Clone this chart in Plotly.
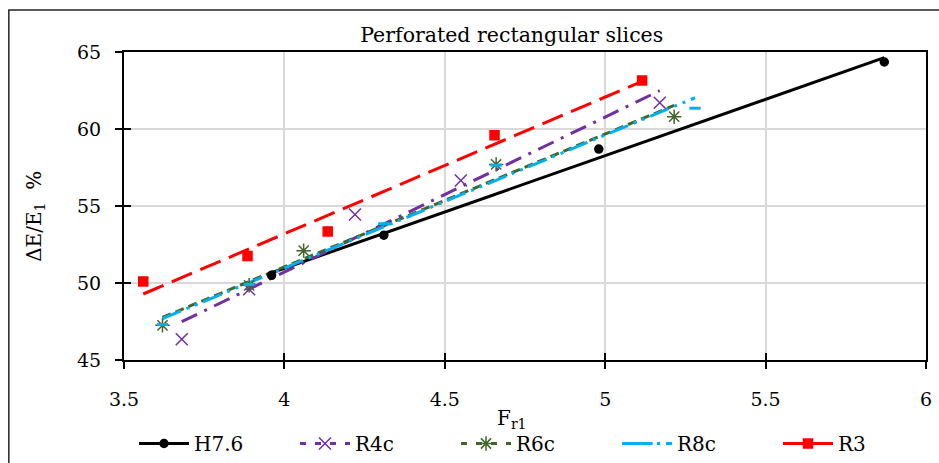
import numpy as np
import plotly.graph_objects as go

# Measured points (F_r1, ΔE/E1 %)
h76_x = [3.96, 4.31, 4.98, 5.87]
h76_y = [50.5, 53.1, 58.7, 64.35]

r4c_x = [3.68, 3.89, 4.22, 4.55, 5.17]
r4c_y = [46.35, 49.6, 54.45, 56.65, 61.7]

r6c_x = [3.62, 3.89, 4.06, 4.66, 5.215]
r6c_y = [47.25, 49.85, 52.1, 57.7, 60.8]

r8c_x = [3.62, 3.89, 4.31, 4.66, 5.28]
r8c_y = [47.3, 49.9, 53.85, 57.65, 61.35]

r3_x = [3.56, 3.885, 4.135, 4.655, 5.115]
r3_y = [50.1, 51.75, 53.35, 59.6, 63.15]

x_ticks = [3.5, 4, 4.5, 5, 5.5, 6]
y_ticks = [45, 50, 55, 60, 65]

FONT = "DejaVu Serif"

series = [
    # name, x, y, color, trend dash, marker symbol, marker size, legend dash
    ("H7.6", h76_x, h76_y, "#000000", "solid", "circle", 8, "solid"),
    ("R4c", r4c_x, r4c_y, "#7030A0", "17px,8px,3px,8px", "x-thin-open", 12, "6px,9px"),
    ("R6c", r6c_x, r6c_y, "#41652A", "9px,5px", "asterisk-open", 12, "6px,9px"),
    ("R8c", r8c_x, r8c_y, "#00B0F0", "20px,6px,3px,6px,3px,6px", "line-ew-open", 8, "20px,6px,3px,6px,3px,6px"),
    ("R3", r3_x, r3_y, "#FF0000", "22px,9px", "square", 9, "solid"),
]

fig = go.Figure()

# Linear trendlines spanning each series' x-range
for name, xs, ys, color, dash, sym, msize, ldash in series:
    slope, icpt = np.polyfit(xs, ys, 1)
    tx = np.array([min(xs), max(xs)])
    fig.add_trace(go.Scatter(
        x=tx, y=slope * tx + icpt, mode="lines",
        line=dict(color=color, width=3, dash=dash),
        showlegend=False, hoverinfo="skip",
    ))

# Data markers
for name, xs, ys, color, dash, sym, msize, ldash in series:
    fig.add_trace(go.Scatter(
        x=xs, y=ys, mode="markers", name=name, showlegend=False,
        marker=dict(symbol=sym, size=msize, color=color,
                    line=dict(color=color, width=1.5 if sym != "line-ew-open" else 3)),
    ))

# Legend entries (line + marker style per series)
for name, xs, ys, color, dash, sym, msize, ldash in series:
    fig.add_trace(go.Scatter(
        x=[None], y=[None], mode="lines+markers", name=name,
        line=dict(color=color, width=3, dash=ldash),
        marker=dict(symbol=sym, size=msize, color=color,
                    line=dict(color=color, width=1.5 if sym != "line-ew-open" else 3)),
    ))

axis_common = dict(
    showline=True, linecolor="#000000", linewidth=2, mirror=True,
    ticks="outside", ticklen=7, tickwidth=1.5, tickcolor="#000000",
    showgrid=True, gridcolor="#D9D9D9", gridwidth=1.5,
    zeroline=False,
    tickfont=dict(family=FONT, size=19, color="#000000"),
)

fig.update_layout(
    width=939, height=463,
    margin=dict(l=124, r=7, t=52, b=103),
    paper_bgcolor="white", plot_bgcolor="white",
    font=dict(family=FONT, size=20, color="#000000"),
    title=dict(text="Perforated rectangular slices", x=0.545, xanchor="center",
               y=0.925, yanchor="middle", xref="container", yref="container",
               font=dict(family=FONT, size=20.5, color="#000000")),
    xaxis=dict(range=[3.5, 6], tickvals=x_ticks, ticktext=[f"{v:g}" for v in x_ticks],
               ticklabelstandoff=14, **axis_common),
    yaxis=dict(range=[45, 65], tickvals=y_ticks, ticktext=[str(v) for v in y_ticks],
               ticklabelstandoff=10, **axis_common),
    # inner halves of the crossing tick marks
    xaxis2=dict(range=[3.5, 6], tickvals=x_ticks, overlaying="x", anchor="y",
                ticks="inside", ticklen=7, tickwidth=1.5, tickcolor="#000000",
                showticklabels=False, showgrid=False, showline=False, zeroline=False),
    yaxis2=dict(range=[45, 65], tickvals=y_ticks, overlaying="y", anchor="x",
                ticks="inside", ticklen=7, tickwidth=1.5, tickcolor="#000000",
                showticklabels=False, showgrid=False, showline=False, zeroline=False),
    legend=dict(orientation="h", x=0.025, xanchor="left",
                yref="container", y=-0.01, yanchor="bottom",
                itemwidth=50, entrywidth=96, entrywidthmode="pixels",
                font=dict(family=FONT, size=20, color="#000000"),
                bgcolor="rgba(0,0,0,0)", itemsizing="trace"),
    annotations=[
        dict(text="F<sub>r1</sub>", xref="paper", yref="paper", x=0.484, y=-0.19,
             xanchor="center", yanchor="middle", showarrow=False,
             font=dict(family=FONT, size=20)),
        dict(text="ΔE/E<sub>1</sub>\u00a0\u00a0%", xref="paper", yref="paper",
             x=-0.111, y=0.468, xanchor="center", yanchor="middle", textangle=-90,
             showarrow=False, font=dict(family=FONT, size=20)),
    ],
    shapes=[dict(type="rect", xref="paper", yref="paper",
                 x0=-0.1436, x1=1.06, y0=-0.6, y1=1.136,
                 line=dict(color="#262626", width=1.5), fillcolor="rgba(0,0,0,0)",
                 layer="below")],
)

# A hidden trace so the overlay axes are rendered
fig.add_trace(go.Scatter(x=[None], y=[None], xaxis="x2", yaxis="y2",
                         showlegend=False, hoverinfo="skip"))

fig.write_html("out.html")
